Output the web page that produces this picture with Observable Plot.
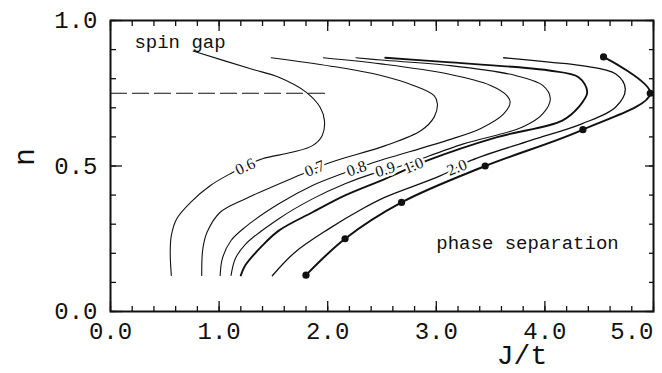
<!DOCTYPE html>
<html><head><meta charset="utf-8">
<script src="https://cdn.jsdelivr.net/npm/d3@7"></script>
<script src="https://cdn.jsdelivr.net/npm/@observablehq/plot@0.6"></script>
<style>body{margin:0;background:#fff}</style>
</head><body><div id="chart"></div>
<script>
// contour curves (J/t, n), bottom branch -> nose -> top end
const J06 = [0.56,0.55,0.56,0.61,0.74,0.92,1.12,1.24,1.40,1.67,1.86,1.95,1.97,1.93,1.80,1.55,1.29,0.76];
const n06 = [0.124,0.204,0.261,0.319,0.376,0.433,0.477,0.500,0.525,0.547,0.570,0.605,0.656,0.702,0.754,0.805,0.834,0.895];
const J07 = [0.84,0.85,0.89,1.01,1.24,1.73,2.03,2.53,2.86,2.98,3.01,2.98,2.79,2.49,2.03,1.48];
const n07 = [0.124,0.215,0.273,0.341,0.387,0.467,0.513,0.570,0.622,0.668,0.714,0.742,0.777,0.811,0.843,0.872];
const J08 = [1.01,1.03,1.11,1.24,1.55,1.86,2.13,2.39,3.10,3.41,3.62,3.68,3.65,3.50,3.10,2.49,1.96];
const n08 = [0.124,0.182,0.244,0.290,0.370,0.433,0.473,0.508,0.588,0.629,0.679,0.719,0.742,0.777,0.817,0.851,0.872];
const J09 = [1.11,1.15,1.24,1.55,1.86,2.16,2.41,2.64,3.25,3.79,3.98,4.05,3.98,3.73,3.13,2.49,2.26];
const n09 = [0.124,0.182,0.230,0.319,0.387,0.439,0.473,0.496,0.576,0.633,0.679,0.731,0.777,0.811,0.845,0.864,0.872];
const J10 = [1.20,1.24,1.40,1.55,1.86,2.16,2.53,2.92,3.56,4.16,4.31,4.39,4.31,4.04,3.73,3.10,2.53];
const n10 = [0.124,0.158,0.227,0.278,0.341,0.399,0.456,0.519,0.599,0.656,0.702,0.754,0.805,0.828,0.840,0.857,0.872];
const J20 = [1.49,1.70,2.01,2.32,2.53,3.04,3.32,3.87,4.34,4.65,4.74,4.65,4.34,4.04,3.62];
const n20 = [0.123,0.204,0.284,0.353,0.393,0.467,0.519,0.588,0.645,0.702,0.765,0.817,0.845,0.857,0.872];
// phase-separation boundary (computed points)
const Jps = [1.80,2.16,2.68,3.45,4.35,4.97,4.54];
const nps = [0.125,0.25,0.375,0.5,0.625,0.75,0.875];

// contour labels
const labelText = ["0.6","0.7","0.8","0.9","1.0","2.0"];
const labelJ = [1.24,1.88,2.265,2.53,2.79,3.19];
const labelN = [0.498,0.491,0.491,0.488,0.502,0.495];
const labelAngle = [-25,-22,-19,-16,-22,-22];

// dashed line at n = 0.75
const dashJ = [0, 2.0];
const dashN = [0.75, 0.75];

// region annotations
const annText = ["spin gap", "phase separation"];
const annJ = [0.22, 3.0];
const annN = [0.927, 0.236];

// ticks
const xMajor = [0,1,2,3,4,5];
const xMinor = d3.range(0, 5.001, 0.2).map(v => +v.toFixed(1));
const xLabels = [0,1,2,3,4];
const xLabelEnd = [5];
const yMajor = [0, 0.5, 1];
const yMinor = d3.range(0, 1.001, 0.1).map(v => +v.toFixed(1));

const curveSets = [
  {name:"0.6", J:J06, n:n06, w:1.1},
  {name:"0.7", J:J07, n:n07, w:1.1},
  {name:"0.8", J:J08, n:n08, w:1.1},
  {name:"0.9", J:J09, n:n09, w:1.1},
  {name:"1.0", J:J10, n:n10, w:1.9},
  {name:"2.0", J:J20, n:n20, w:1.3},
  {name:"ps",  J:Jps, n:nps, w:2.0}
];
const lines = curveSets.map(c => Plot.line(c.J.map((j,i)=>({J:j, n:c.n[i]})), {
  x:"J", y:"n", curve:"catmull-rom", stroke:"#111", strokeWidth:c.w
}));
const labels = labelText.map((t,i)=>({t, J:labelJ[i], n:labelN[i], a:labelAngle[i]}));
const dots = Jps.map((j,i)=>({J:j, n:nps[i]}));
const dash = dashJ.map((j,i)=>({J:j, n:dashN[i]}));
const ann = annText.map((t,i)=>({t, J:annJ[i], n:annN[i]}));

const tickOpts = {tickFormat: () => "", stroke:"#111", strokeWidth:1.3, label:null};
const textOpts = {tickSize:0, tickFormat:d=>d.toFixed(1), fontSize:24, label:null, fill:"#111"};
const chart = Plot.plot({
  width: 662, height: 373,
  marginLeft: 110, marginRight: 9, marginTop: 20, marginBottom: 62,
  x: {domain: [0, 5], label: null},
  y: {domain: [0, 1], label: null},
  style: {fontFamily: "Liberation Mono", background: "white", color: "#111", overflow: "visible"},
  marks: [
    Plot.line(dash, {x:"J", y:"n", stroke:"#111", strokeWidth:1.2, strokeDasharray:"16,6"}),
    ...lines,
    Plot.dot(dots, {x:"J", y:"n", r:3.6, fill:"#111"}),
    Plot.text(labels, {x:"J", y:"n", text:"t", rotate:"a", fontFamily:"Liberation Serif", fontSize:16,
      fill:"#111", stroke:"white", strokeWidth:5, textAnchor:"middle", lineAnchor:"middle"}),
    Plot.text(ann, {x:"J", y:"n", text:"t", fontSize:19, textAnchor:"start", lineAnchor:"middle", fill:"#111"}),
    Plot.frame({stroke:"#111", strokeWidth:2}),
    Plot.axisX(xMinor, {anchor:"bottom", tickSize:-5, ...tickOpts}),
    Plot.axisX(xMajor, {anchor:"bottom", tickSize:-10, ...tickOpts}),
    Plot.axisX(xMinor, {anchor:"top", tickSize:-5, ...tickOpts}),
    Plot.axisX(xMajor, {anchor:"top", tickSize:-10, ...tickOpts}),
    Plot.axisY(yMinor, {anchor:"left", tickSize:-6, ...tickOpts}),
    Plot.axisY(yMajor, {anchor:"left", tickSize:-12, ...tickOpts}),
    Plot.axisY(yMinor, {anchor:"right", tickSize:-5, ...tickOpts}),
    Plot.axisY(yMajor, {anchor:"right", tickSize:-9, ...tickOpts}),
    Plot.axisX(xLabels, {anchor:"bottom", tickPadding:10, ...textOpts}),
    Plot.axisX(xLabelEnd, {anchor:"bottom", tickPadding:10, textAnchor:"end", ...textOpts}),
    Plot.axisY(yMajor, {anchor:"left", tickPadding:13, ...textOpts}),
    Plot.text(["J/t"], {frameAnchor:"bottom", dx:140, dy:44, fontSize:28, lineAnchor:"middle", fill:"#111"}),
    Plot.text(["n"], {frameAnchor:"left", dx:-86, rotate:-90, fontSize:30, lineAnchor:"middle", fill:"#111"})
  ]
});
document.getElementById("chart").appendChild(chart);
</script>
</body></html>
